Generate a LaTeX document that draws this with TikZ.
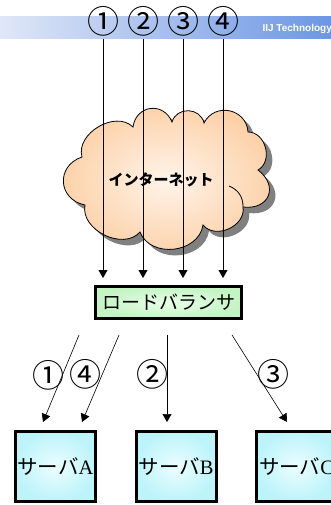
\documentclass[tikz,border=0pt]{standalone}
\usepackage{fontspec}
\setmainfont{Liberation Serif}
\newfontfamily\jp{Noto Sans CJK JP}
\newfontfamily\hdrfont{Liberation Sans}
\usetikzlibrary{arrows.meta,calc}
\definecolor{hdrL}{RGB}{224,231,247}
\definecolor{hdrR}{RGB}{108,150,228}
\definecolor{cloudE}{RGB}{252,208,166}
\definecolor{cloudC}{RGB}{255,244,234}
\definecolor{shadowG}{RGB}{128,128,128}
\definecolor{lbE}{RGB}{196,244,196}
\definecolor{lbC}{RGB}{232,254,232}
\definecolor{svE}{RGB}{188,244,250}
\definecolor{svC}{RGB}{236,253,255}
\newcommand\cloudoutline{(82,-157)
  to[bend left=75,looseness=1.06] (133,-127)
  to[bend left=75,looseness=1.45] (172,-122)
  to[bend left=75,looseness=1.30] (204,-123)
  to[bend left=75,looseness=1.34] (248,-132)
  to[bend left=75,looseness=1.16] (258,-170)
  to[bend left=75,looseness=1.70] (243,-207)
  to[bend left=75,looseness=1.13] (203,-225)
  to[bend left=75,looseness=1.16] (140,-232)
  to[bend left=75,looseness=1.06] (85,-205)
  to[bend left=75,looseness=1.48] (82,-157) -- cycle}
\begin{document}
\begin{tikzpicture}[x=1pt,y=1pt,
  num/.style={font=\jp\fontsize{32}{32}\selectfont, inner sep=0pt},
  bar/.style={minimum width=331pt, minimum height=22pt, inner sep=0pt, left color=hdrL, right color=hdrR, draw=none},
  lbbox/.style={draw=black, line width=3pt, minimum width=146pt, minimum height=32pt, inner sep=0pt, inner color=lbC, outer color=lbE, font=\jp\fontsize{19}{19}\selectfont},
  server/.style={draw=black, line width=3pt, minimum width=80pt, minimum height=70pt, inner sep=0pt, inner color=svC, outer color=svE, font=\jp\fontsize{20.5}{20.5}\selectfont},
  downarr/.style={line width=0.8pt, -{Triangle[width=9pt,length=8pt]}},
  distarr/.style={line width=0.6pt, -{Triangle[width=9pt,length=8pt]}}]
\useasboundingbox (0,0) rectangle (331,-505);
\clip (0,0) rectangle (331,-505);
% header bar
\node[bar] (bar) at (165.5,-28) {};
\node[anchor=east, text=white, font=\hdrfont\bfseries\fontsize{10}{10}\selectfont, inner sep=0pt] (iij) at (332,-28.5) {IIJ Technology};
\node[num] (n1) at (103,-21) {①};
\node[num] (n2) at (143,-21) {②};
\node[num] (n3) at (183,-21) {③};
\node[num] (n4) at (223,-21) {④};
% cloud
\fill[shadowG, shift={(6,-6)}] \cloudoutline;
\shade[inner color=cloudC, outer color=cloudE] \cloudoutline;
\draw[line width=0.8pt] \cloudoutline;
\draw[line width=0.8pt] (229,-186) to[bend left=35] (243,-207);
% load balancer
\node[lbbox] (lb) at (168.5,-302.5) {ロードバランサ};
% servers
\node[server] (sa) at (55.5,-466.5) {サーバ{\rmfamily A}};
\node[server] (sb) at (176,-466.5) {サーバ{\rmfamily B}};
\node[server] (sc) at (296.5,-466.5) {サーバ{\rmfamily C}};
% incoming arrows
\foreach \n in {n1,n2,n3,n4}
  \draw[downarr, shorten >=7pt] (\n |- bar.south) -- (\n |- lb.north);
\node[font=\jp\bfseries\fontsize{15}{15}\selectfont, inner sep=0pt] (inet) at (161,-180) {インターネット};
% distribution arrows
\coordinate (s1) at (79,-335);  \coordinate (e1) at (43,-422);
\coordinate (s4) at (119,-335); \coordinate (e4) at (82,-422);
\coordinate (s2) at (167,-335); \coordinate (e2) at (167,-422);
\coordinate (s3) at (232,-335); \coordinate (e3) at (287,-422);
\draw[distarr] (s1) -- (e1);
\draw[distarr] (s4) -- (e4);
\draw[distarr] (s2) -- (e2);
\draw[distarr] (s3) -- (e3);
\node[num] (l1) at (48,-375) {①};
\node[num] (l4) at (85,-374) {④};
\node[num] (l2) at (152,-374) {②};
\node[num] (l3) at (273,-374) {③};
\end{tikzpicture}
\end{document}
